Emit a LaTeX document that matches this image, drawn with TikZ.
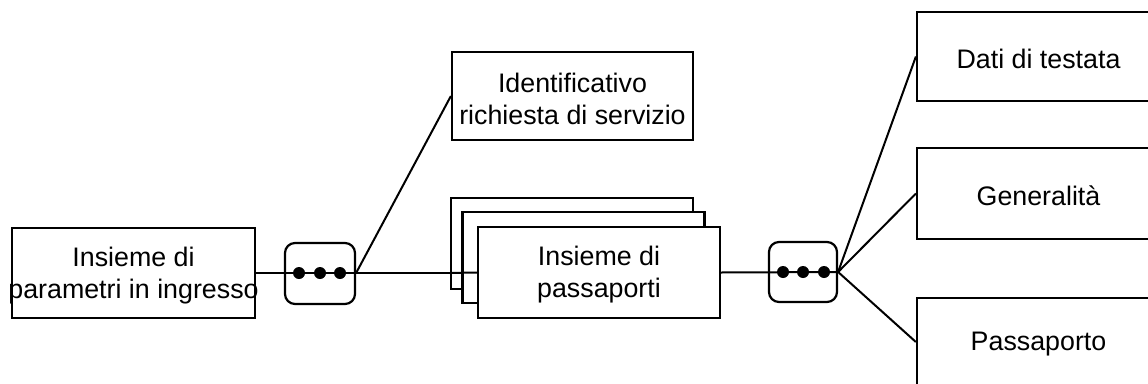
\documentclass[tikz,border=0pt]{standalone}
\usepackage{fontspec}
\setmainfont{Liberation Sans}
\tikzset{
  box/.style={draw, line width=2.2pt, fill=white, minimum width=243pt, minimum height=90pt, inner sep=0pt},
  txt/.style={align=center, inner sep=0pt, yshift=-2.5pt, font=\fontsize{26.8}{32}\selectfont},
  dotsbox/.style={draw, line width=2.2pt, rounded corners=10pt, minimum width=70pt, minimum height=61pt, inner sep=0pt},
  conn/.style={line width=2pt},
  dot/.style={circle, fill=black, inner sep=0pt, minimum size=12pt}
}
\begin{document}
\begin{tikzpicture}[x=1pt,y=-1pt]
\useasboundingbox (0,0) rectangle (1148,383);
\clip (0,0) rectangle (1148,383);
% left input box
\node[box] (A) at (133.5,273) {};
\node[txt] (At) at (A.center) {Insieme di\\parametri in ingresso};
% identificativo
\node[box, minimum width=241pt, minimum height=88pt] (ident) at (572.5,96) {};
\node[txt] (identt) at (ident.center) {Identificativo\\richiesta di servizio};
% stack
\node[box, minimum width=242pt, minimum height=91pt] (back1) at (572,243.5) {};
\node[box, minimum width=242pt, minimum height=91pt] (back2) at (583.5,257.5) {};
% dots box 1
\node[dotsbox] (d1) at (320,273.5) {};
\draw[conn] (A.east) -- (back1.west |- A.east) coordinate (mid1);
\node[box, minimum width=242pt, minimum height=91pt] (front) at (599,272.5) {};
\draw[conn] (mid1) -- (front.west);
\node[txt] (frontt) at (front.center) {Insieme di\\passaporti};
\node[dot] (d1a) at (299,273) {};
\node[dot] (d1b) at (320,273) {};
\node[dot] (d1c) at (340,273) {};
\draw[conn] (d1.east |- d1b) -- (ident.west);
% dots box 2
\node[dotsbox, minimum width=68pt, minimum height=60pt] (d2) at (803,272) {};
\draw[conn] (front.east) -- (d2.east);
\node[dot] (d2a) at (783,272) {};
\node[dot] (d2b) at (803,272) {};
\node[dot] (d2c) at (824,272) {};
% right boxes
\node[box, minimum height=89pt] (dati) at (1038.5,56.5) {};
\node[txt] (datit) at (dati.center) {Dati di testata};
\node[box, minimum height=91pt] (gen) at (1038.5,193.5) {};
\node[txt] (gent) at (gen.center) {Generalità};
\node[box, minimum height=88pt] (pass) at (1038.5,342) {};
\node[txt] (passt) at (pass.center) {Passaporto};
\draw[conn] (d2.east) -- (dati.west);
\draw[conn] (d2.east) -- (gen.west);
\draw[conn] (d2.east) -- (pass.west);
\end{tikzpicture}
\end{document}
